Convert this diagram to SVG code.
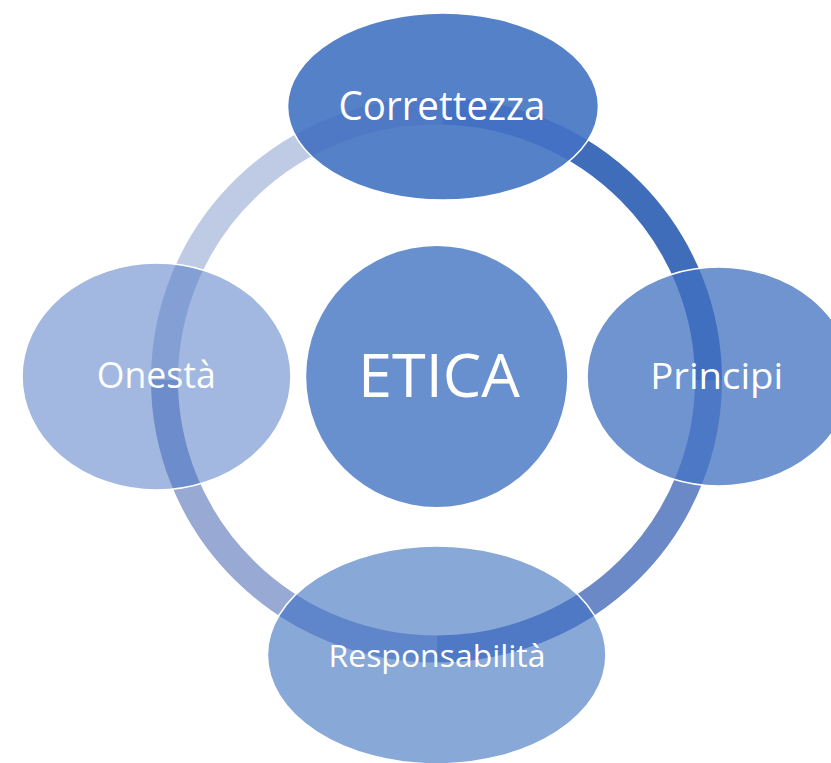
<svg xmlns="http://www.w3.org/2000/svg" width="831" height="763" viewBox="0 0 831 763">
<style>
.arc{fill:none;stroke-width:27;stroke-linecap:butt}
.outline{fill:none;stroke:#ffffff;stroke-width:1.6}
.lbl{font-family:"Open Sans","Noto Sans","DejaVu Sans",sans-serif;fill:#ffffff;text-anchor:middle}
</style>
<defs>
<path id="a1" d="M443 111.08 A272 269 0 0 1 708.5 380"/>
<path id="a2" d="M708.5 380 A272 269 0 0 1 436.5 649"/>
<path id="a3" d="M436.5 649 A272 269 0 0 1 164.5 380"/>
<path id="a4" d="M164.5 380 A272 269 0 0 1 443 111.08"/>
<clipPath id="cC"><ellipse cx="443" cy="106.5" rx="155.5" ry="93.5"/></clipPath>
<clipPath id="cP"><ellipse cx="719" cy="376.5" rx="132" ry="109.5"/></clipPath>
<clipPath id="cO"><ellipse cx="156.5" cy="376.5" rx="134.5" ry="113.5"/></clipPath>
<clipPath id="cR"><ellipse cx="436.7" cy="655" rx="169.3" ry="109"/></clipPath>
</defs>
<rect width="831" height="763" fill="#ffffff"/>
<g id="connectors">
<use href="#a1" class="arc" stroke="#3F6DBA"/>
<use href="#a2" class="arc" stroke="#6B89C6"/>
<use href="#a3" class="arc" stroke="#98A9D4"/>
<use href="#a4" class="arc" stroke="#BFCAE4"/>
</g>
<g id="node-etica">
<circle cx="436.7" cy="376.5" r="130.5" fill="#6990CE"/>
<text class="lbl" x="439" y="396.7" font-size="60" textLength="162" lengthAdjust="spacingAndGlyphs">ETICA</text>
</g>
<g id="node-correttezza">
<ellipse cx="443" cy="106.5" rx="155.5" ry="93.5" fill="#5581C9"/>
<g clip-path="url(#cC)">
<use href="#a4" class="arc" stroke="#5079C5"/>
<use href="#a1" class="arc" stroke="#4471C3"/>
</g>
<ellipse class="outline" cx="443" cy="106.5" rx="155.5" ry="93.5"/>
<text class="lbl" x="442" y="120" font-size="40" textLength="207" lengthAdjust="spacingAndGlyphs">Correttezza</text>
</g>
<g id="node-principi">
<ellipse cx="719" cy="376.5" rx="132" ry="109.5" fill="#6F94CF"/>
<g clip-path="url(#cP)">
<use href="#a1" class="arc" stroke="#416FC0"/>
<use href="#a2" class="arc" stroke="#4D78C6"/>
</g>
<ellipse class="outline" cx="719" cy="376.5" rx="132" ry="109.5"/>
<text class="lbl" x="716.7" y="389.3" font-size="36" textLength="133" lengthAdjust="spacingAndGlyphs">Principi</text>
</g>
<g id="node-responsabilita">
<ellipse cx="436.7" cy="655" rx="169.3" ry="109" fill="#88A8D8"/>
<g clip-path="url(#cR)">
<use href="#a3" class="arc" stroke="#5F86CA"/>
<use href="#a2" class="arc" stroke="#5079C5"/>
</g>
<ellipse class="outline" cx="436.7" cy="655" rx="169.3" ry="109"/>
<text class="lbl" x="437" y="667.3" font-size="31.5" textLength="217" lengthAdjust="spacingAndGlyphs">Responsabilità</text>
</g>
<g id="node-onesta">
<ellipse cx="156.5" cy="376.5" rx="134.5" ry="113.5" fill="#A2B8E0"/>
<g clip-path="url(#cO)">
<use href="#a4" class="arc" stroke="#839FD4"/>
<use href="#a3" class="arc" stroke="#6C8CCB"/>
</g>
<ellipse class="outline" cx="156.5" cy="376.5" rx="134.5" ry="113.5"/>
<text class="lbl" x="156.3" y="388.3" font-size="36" textLength="119" lengthAdjust="spacingAndGlyphs">Onestà</text>
</g>
</svg>
